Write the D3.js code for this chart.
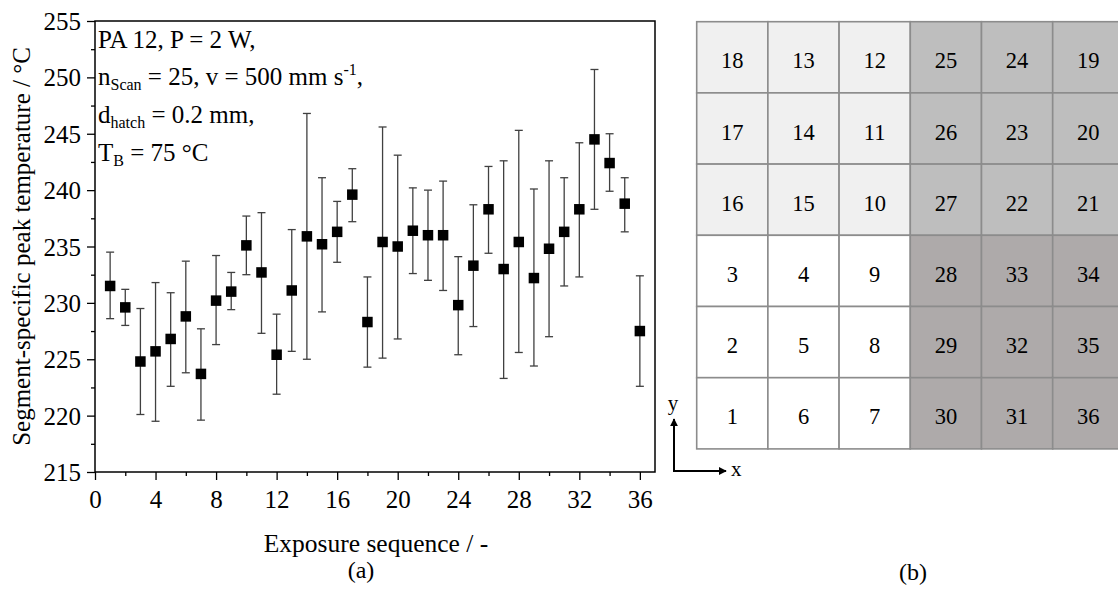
<!DOCTYPE html>
<html>
<head>
<meta charset="utf-8">
<script src="https://cdnjs.cloudflare.com/ajax/libs/d3/7.8.5/d3.min.js"></script>
<style>
  html, body { margin: 0; padding: 0; background: #ffffff; }
</style>
</head>
<body>
<svg id="chart" width="1118" height="590"></svg>
<script>
// ---------- data ----------
const sequence = [1,2,3,4,5,6,7,8,9,10,11,12,13,14,15,16,17,18,19,20,21,22,23,24,25,26,27,28,29,30,31,32,33,34,35,36];
const meanTemp = [231.5,229.6,224.8,225.7,226.8,228.8,223.7,230.2,231.0,235.1,232.7,225.4,231.1,235.9,235.2,236.3,239.6,228.3,235.4,235.0,236.4,236.0,236.0,229.8,233.3,238.3,233.0,235.4,232.2,234.8,236.3,238.3,244.5,242.4,238.8,227.5];
const upperTemp = [234.5,231.2,229.5,231.8,230.9,233.7,227.7,234.2,232.7,237.7,238.0,229.0,236.5,246.8,241.1,239.0,241.9,232.3,245.6,243.1,240.2,240.0,240.8,234.1,238.7,242.1,242.6,245.3,240.1,242.6,241.1,244.2,250.7,245.0,241.1,232.4];
const lowerTemp = [228.6,228.0,220.1,219.5,222.6,223.8,219.6,226.3,229.4,232.5,227.3,221.9,225.7,225.0,229.2,233.6,237.2,224.3,225.1,226.8,232.6,232.0,231.1,225.4,227.9,234.4,223.3,225.6,224.4,227.0,231.5,232.3,238.3,239.9,236.3,222.6];
const xTicks = [0,4,8,12,16,20,24,28,32,36];
const yTicks = [215,220,225,230,235,240,245,250,255];

// segment layout (panel b), rows from top to bottom
const gridLabels = [
  [18,13,12,25,24,19],
  [17,14,11,26,23,20],
  [16,15,10,27,22,21],
  [3,4,9,28,33,34],
  [2,5,8,29,32,35],
  [1,6,7,30,31,36]
];
// shade group of each cell
const gridShade = [
  ["light","light","light","mid","mid","mid"],
  ["light","light","light","mid","mid","mid"],
  ["light","light","light","mid","mid","mid"],
  ["white","white","white","dark","dark","dark"],
  ["white","white","white","dark","dark","dark"],
  ["white","white","white","dark","dark","dark"]
];
const shadeColors = { white: "#ffffff", light: "#f0f0f0", mid: "#bebebe", dark: "#aeaaaa" };

const FONT = "'Liberation Serif', 'Times New Roman', serif";

// ---------- panel a ----------
const svg = d3.select("#chart").attr("font-family", FONT);
const pLeft = 95, pRight = 655, pTop = 21, pBottom = 472;
const x = d3.scaleLinear().domain([0, 37]).range([pLeft, pRight]);
const y = d3.scaleLinear().domain([215, 255]).range([pBottom, pTop]);

const gA = svg.append("g");

const xMinor = [2,6,10,14,18,22,26,30,34];
const yMinor = [217.5,222.5,227.5,232.5,237.5,242.5,247.5,252.5];

const xAxis = d3.axisBottom(x).tickValues(xTicks).tickSize(8).tickSizeOuter(0).tickFormat(d3.format("d"));
const xAxisMinor = d3.axisBottom(x).tickValues(xMinor).tickSize(4).tickSizeOuter(0).tickFormat("");
const yAxis = d3.axisLeft(y).tickValues(yTicks).tickSize(8).tickSizeOuter(0).tickFormat(d3.format("d"));
const yAxisMinor = d3.axisLeft(y).tickValues(yMinor).tickSize(4).tickSizeOuter(0).tickFormat("");

function styleAxis(g) {
  g.attr("font-family", FONT).attr("font-size", 25);
  g.select(".domain").remove();
  g.selectAll("line").attr("stroke", "#000").attr("stroke-width", 1.3);
  g.selectAll("text").attr("fill", "#000");
}

gA.append("g").attr("transform", `translate(0,${pBottom})`).call(xAxis).call(styleAxis)
  .selectAll("text").attr("dy", "0").attr("y", 36);
gA.append("g").attr("transform", `translate(0,${pBottom})`).call(xAxisMinor).call(styleAxis);
gA.append("g").attr("transform", `translate(${pLeft},0)`).call(yAxis).call(styleAxis)
  .selectAll("text").attr("dy", "0.34em").attr("x", -14);
gA.append("g").attr("transform", `translate(${pLeft},0)`).call(yAxisMinor).call(styleAxis);

// frame
gA.append("rect").attr("x", pLeft).attr("y", pTop).attr("width", pRight - pLeft).attr("height", pBottom - pTop)
  .attr("fill", "none").attr("stroke", "#000").attr("stroke-width", 1.5);

// error bars
const capW = 4;
const eb = gA.append("g").attr("stroke", "#404040").attr("stroke-width", 1.3);
sequence.forEach((s, i) => {
  const cx = x(s);
  eb.append("line").attr("x1", cx).attr("x2", cx).attr("y1", y(upperTemp[i])).attr("y2", y(lowerTemp[i]));
  eb.append("line").attr("x1", cx - capW).attr("x2", cx + capW).attr("y1", y(upperTemp[i])).attr("y2", y(upperTemp[i]));
  eb.append("line").attr("x1", cx - capW).attr("x2", cx + capW).attr("y1", y(lowerTemp[i])).attr("y2", y(lowerTemp[i]));
});

// markers
const ms = 10.5;
gA.append("g").selectAll("rect").data(sequence).join("rect")
  .attr("x", d => x(d) - ms / 2)
  .attr("y", (d, i) => y(meanTemp[i]) - ms / 2)
  .attr("width", ms).attr("height", ms)
  .attr("fill", "#000");

// axis titles
gA.append("text").attr("x", (pLeft + pRight) / 2 + 1).attr("y", 552).attr("text-anchor", "middle")
  .attr("font-size", 25.5).text("Exposure sequence / -");
gA.append("text").attr("transform", `translate(30,${(pTop + pBottom) / 2}) rotate(-90)`).attr("text-anchor", "middle")
  .attr("font-size", 25).text("Segment-specific peak temperature / °C");
gA.append("text").attr("x", 361).attr("y", 578).attr("text-anchor", "middle")
  .attr("font-size", 24).text("(a)");

// annotation
const ann = gA.append("g").attr("font-size", 25).attr("fill", "#000");
const annX = 98;
ann.append("text").attr("x", annX).attr("y", 48).text("PA 12, P = 2 W,");
const t2 = ann.append("text").attr("x", annX).attr("y", 85);
t2.append("tspan").text("n");
t2.append("tspan").attr("dy", 5).attr("font-size", 16).text("Scan");
t2.append("tspan").attr("dy", -5).text(" = 25, v = 500 mm s");
t2.append("tspan").attr("dy", -10).attr("font-size", 16).text("-1");
t2.append("tspan").attr("dy", 10).text(",");
const t3 = ann.append("text").attr("x", annX).attr("y", 123);
t3.append("tspan").text("d");
t3.append("tspan").attr("dy", 5).attr("font-size", 16).text("hatch");
t3.append("tspan").attr("dy", -5).text(" = 0.2 mm,");
const t4 = ann.append("text").attr("x", annX).attr("y", 161);
t4.append("tspan").text("T");
t4.append("tspan").attr("dy", 5).attr("font-size", 16).text("B");
t4.append("tspan").attr("dy", -5).text(" = 75 °C");

// ---------- panel b ----------
const gB = svg.append("g");
const cols = d3.range(6), rows = d3.range(6);
const gx = d3.scaleBand().domain(cols).range([696.7, 696.7 + 6 * 71.2]).padding(0);
const gy = d3.scaleBand().domain(rows).range([21.7, 21.7 + 6 * 71.2]).padding(0);

const cells = [];
rows.forEach(r => cols.forEach(c => cells.push({ r, c, label: gridLabels[r][c], shade: gridShade[r][c] })));

gB.selectAll("rect.cell").data(cells).join("rect").attr("class", "cell")
  .attr("x", d => gx(d.c)).attr("y", d => gy(d.r))
  .attr("width", gx.bandwidth()).attr("height", gy.bandwidth())
  .attr("fill", d => shadeColors[d.shade])
  .attr("stroke", "#8c8c8c").attr("stroke-width", 1.6);

gB.selectAll("text.lbl").data(cells).join("text").attr("class", "lbl")
  .attr("x", d => gx(d.c) + gx.bandwidth() / 2)
  .attr("y", d => gy(d.r) + gy.bandwidth() / 2 + 11)
  .attr("text-anchor", "middle").attr("font-size", 22.5).attr("fill", "#000")
  .text(d => d.label);

// coordinate arrows
const defs = svg.append("defs");
defs.append("marker").attr("id", "arr").attr("viewBox", "0 0 10 10").attr("refX", 9).attr("refY", 5)
  .attr("markerWidth", 4).attr("markerHeight", 4).attr("orient", "auto")
  .append("path").attr("d", "M0,0 L10,5 L0,10 z").attr("fill", "#000");
const ox = 674, oy = 471;
gB.append("line").attr("x1", ox).attr("y1", oy + 1).attr("x2", ox).attr("y2", 419)
  .attr("stroke", "#000").attr("stroke-width", 2).attr("marker-end", "url(#arr)");
gB.append("line").attr("x1", ox - 1).attr("y1", oy).attr("x2", 726).attr("y2", oy)
  .attr("stroke", "#000").attr("stroke-width", 2).attr("marker-end", "url(#arr)");
gB.append("text").attr("x", 673).attr("y", 410).attr("text-anchor", "middle").attr("font-size", 21).text("y");
gB.append("text").attr("x", 731).attr("y", 476).attr("font-size", 21).text("x");
gB.append("text").attr("x", 913).attr("y", 580).attr("text-anchor", "middle").attr("font-size", 24).text("(b)");
</script>
</body>
</html>
